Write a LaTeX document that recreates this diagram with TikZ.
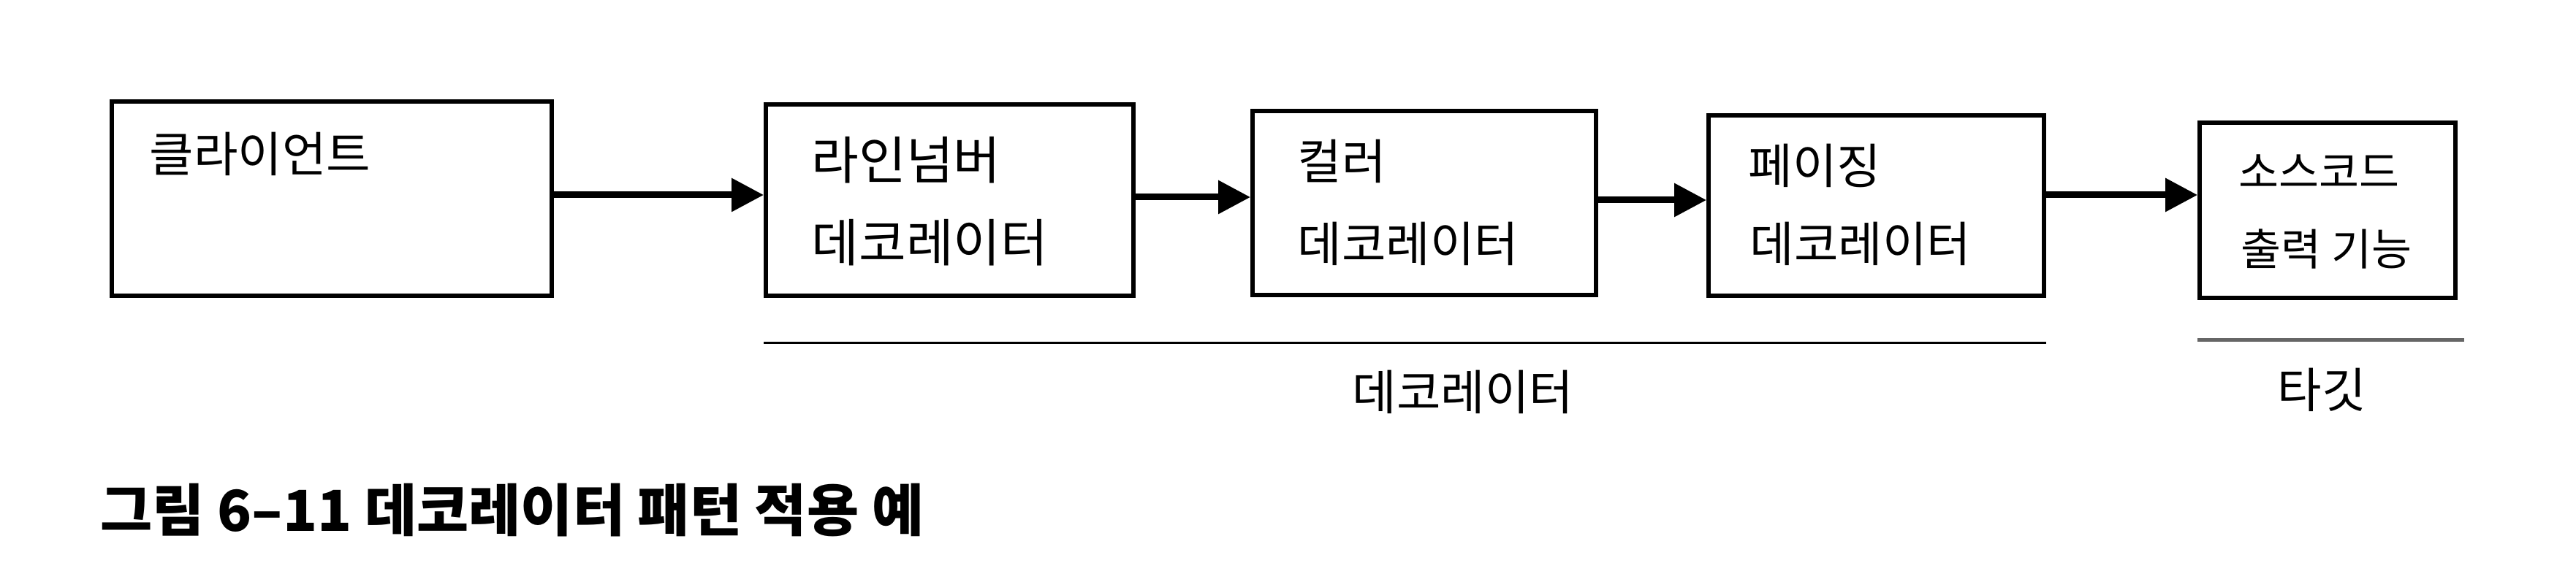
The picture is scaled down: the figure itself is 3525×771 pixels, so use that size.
\documentclass[tikz,border=0pt]{standalone}
\usepackage{fontspec}
\newfontfamily\kr{Noto Sans CJK KR}
\usetikzlibrary{arrows.meta}
\tikzset{
  boxst/.style={draw, line width=0.055cm, inner sep=0pt, fill=white},
  txt/.style={anchor=base west, inner sep=0pt, font=\kr\fontsize{18.7pt}{22pt}\selectfont},
  bigtxt/.style={txt, font=\kr\fontsize{20pt}{24pt}\selectfont},
  smalltxt/.style={txt, font=\kr\fontsize{17pt}{20pt}\selectfont},
  arr/.style={line width=0.09cm, -{Triangle[length=0.44cm, width=0.44cm]}},
  underline/.style={line width=0.03cm}
}
\begin{document}
\begin{tikzpicture}[x=0.01cm, y=-0.01cm]
\useasboundingbox (0,0) rectangle (3525,771);
\fill[white] (0,0) rectangle (3525,771);

% boxes
\node[boxst, minimum width=6.02cm, minimum height=2.66cm] (client) at (454,272) {};
\node[boxst, minimum width=5.03cm, minimum height=2.62cm] (b2) at (1299.5,274) {};
\node[boxst, minimum width=4.70cm, minimum height=2.52cm] (b3) at (1949,278) {};
\node[boxst, minimum width=4.59cm, minimum height=2.47cm] (b4) at (2567.5,281.5) {};
\node[boxst, minimum width=3.50cm, minimum height=2.40cm] (b5) at (3185,288) {};

% box texts
\node[txt] (t1) at (204,236) {클라이언트};
\node[bigtxt] (t2a) at (1110,246) {라인넘버};
\node[bigtxt] (t2b) at (1110,359) {데코레이터};
\node[txt] (t3a) at (1775,246) {컬러};
\node[txt] (t3b) at (1775,359) {데코레이터};
\node[txt] (t4a) at (2392,252) {페이징};
\node[txt] (t4b) at (2394,359) {데코레이터};
\node[smalltxt] (t5a) at (3063,258) {소스코드};
\node[smalltxt] (t5b) at (3066,364) {출력 기능};

% arrows
\draw[arr] (client.east |- 0,267) -- (b2.west |- 0,267);
\draw[arr] (b2.east |- 0,270) -- (b3.west |- 0,270);
\draw[arr] (b3.east |- 0,274) -- (b4.west |- 0,274);
\draw[arr] (b4.east |- 0,267) -- (b5.west |- 0,267);

% group lines
\draw[underline] (b2.west |- 0,470) -- (b4.east |- 0,470);
\coordinate (tend) at (3372,466);
\draw[underline, gray!80!black, line width=0.05cm] (b5.west |- tend) -- (tend);

% group labels
\node[txt, anchor=base] (declabel) at (2002,562) {데코레이터};
\node[txt, anchor=base] (tgtlabel) at (3177,559) {타깃};

% caption
\node[anchor=base west, inner sep=0pt, font=\kr\bfseries\fontsize{22pt}{26pt}\selectfont] (cap) at (137,728) {그림 6–11 데코레이터 패턴 적용 예};
\end{tikzpicture}
\end{document}
